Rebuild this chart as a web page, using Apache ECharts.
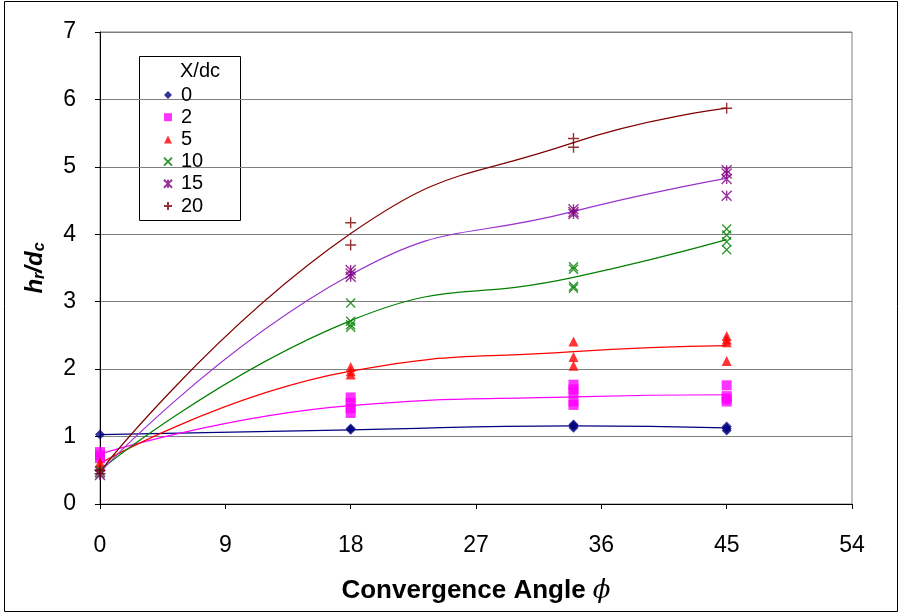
<!DOCTYPE html>
<html>
<head>
<meta charset="utf-8">
<script src="https://cdn.jsdelivr.net/npm/echarts@6/dist/echarts.min.js"></script>
<style>
  html, body { margin: 0; padding: 0; background: #ffffff; }
  #chart { width: 903px; height: 615px; }
</style>
</head>
<body>
<div id="chart"></div>
<script>
// Convergence angles at which measurements were taken
const angles = [0, 18, 34, 45];

// Group names (X/dc) shown in the legend
const groupNames = ['0', '2', '5', '10', '15', '20'];

// Measured hr/dc values, one inner list per angle in `angles`
const hr0  = [[1.03], [1.10, 1.12], [1.13, 1.16, 1.18], [1.09, 1.12, 1.15]];
const hr2  = [[0.68, 0.72, 0.77], [1.35, 1.42, 1.50, 1.58], [1.47, 1.52, 1.65, 1.70, 1.77], [1.52, 1.56, 1.60, 1.76]];
const hr5  = [[0.55, 0.62], [1.92, 1.97, 2.03], [2.05, 2.18, 2.41], [2.12, 2.40, 2.44, 2.49]];
const hr10 = [[0.45, 0.50], [2.62, 2.66, 2.71, 2.98], [3.20, 3.23, 3.48, 3.52], [3.77, 3.89, 3.99, 4.08]];
const hr15 = [[0.43, 0.48], [3.37, 3.42, 3.47], [4.30, 4.33, 4.37], [4.57, 4.82, 4.90, 4.95]];
const hr20 = [[0.45, 0.50], [3.84, 4.17], [5.29, 5.42], [5.87]];

// Trend values for each group at the same angles
const fit0  = [1.03, 1.10, 1.16, 1.13];
const fit2  = [0.74, 1.46, 1.59, 1.62];
const fit5  = [0.60, 1.97, 2.26, 2.35];
const fit10 = [0.50, 2.72, 3.36, 3.92];
const fit15 = [0.47, 3.40, 4.34, 4.83];
const fit20 = [0.48, 4.01, 5.36, 5.87];

const measured = [hr0, hr2, hr5, hr10, hr15, hr20];
const trends = [fit0, fit2, fit5, fit10, fit15, fit20];

const markerColors = ['#000080', '#FF00FF', '#FF0000', '#008000', '#800080', '#800000'];
const lineColors   = ['#000080', '#FF00FF', '#FF0000', '#008000', '#9933CC', '#800000'];

// Marker shapes: diamond, square, triangle, cross, asterisk, plus
const symbols = [
  'diamond',
  'rect',
  'triangle',
  'path://M0,0L10,10M10,0L0,10',
  'path://M0,0L10,10M10,0L0,10M5,0L5,10',
  'path://M5,0L5,10M0,5L10,5'
];
const symbolSizes = [10, 10, 10, 9, 10, 11];
const stroked = [false, false, false, true, true, true];

function toPairs(groups) {
  const out = [];
  groups.forEach((vals, i) => vals.forEach(v => out.push([angles[i], v])));
  return out;
}

const series = [];
trends.forEach((fit, g) => {
  series.push({
    name: 'trend' + groupNames[g],
    type: 'line',
    data: fit.map((v, i) => [angles[i], v]),
    smooth: 0.5,
    showSymbol: false,
    symbol: 'none',
    silent: true,
    z: 2,
    lineStyle: { color: lineColors[g], width: 1.2 }
  });
});
measured.forEach((groups, g) => {
  const style = stroked[g]
    ? { color: 'rgba(0,0,0,0)', borderColor: markerColors[g], borderWidth: 1.4 }
    : { color: markerColors[g] };
  series.push({
    name: groupNames[g],
    type: 'scatter',
    data: toPairs(groups),
    symbol: symbols[g],
    symbolSize: symbolSizes[g],
    z: 3,
    itemStyle: style
  });
});

const chart = echarts.init(document.getElementById('chart'), null, { renderer: 'canvas' });
chart.setOption({
  animation: false,
  backgroundColor: '#ffffff',
  textStyle: { fontFamily: 'Liberation Sans, Arial, sans-serif' },
  grid: {
    left: 100, right: 51, top: 32, bottom: 111,
    show: true, borderColor: '#808080', borderWidth: 1, backgroundColor: '#ffffff'
  },
  legend: {
    data: groupNames,
    orient: 'vertical',
    left: 163,
    top: 85,
    padding: 0,
    itemWidth: 8,
    itemHeight: 8,
    itemGap: 2.2,
    textStyle: { fontSize: 20, color: '#000000', padding: [0, 0, 0, 4], fontFamily: 'Liberation Sans, Arial, sans-serif' }
  },
  xAxis: {
    type: 'value',
    min: 0, max: 54, interval: 9,
    name: '{b|Convergence Angle }{p|ϕ}',
    nameLocation: 'middle',
    nameGap: 74,
    nameTextStyle: {
      rich: {
        b: { fontSize: 26, fontWeight: 'bold', color: '#000', fontFamily: 'Liberation Sans, Arial, sans-serif' },
        p: { fontSize: 26, fontStyle: 'italic', color: '#000', fontFamily: 'DejaVu Serif, serif' }
      }
    },
    axisLine: { lineStyle: { color: '#000000', width: 1 } },
    axisTick: { show: true, length: 5, lineStyle: { color: '#000000' } },
    axisLabel: { fontSize: 23, color: '#000000', margin: 30 },
    splitLine: { show: false }
  },
  yAxis: {
    type: 'value',
    min: 0, max: 7, interval: 1,
    name: '{h|h}{s|r}{h|/d}{s|c}',
    nameLocation: 'middle',
    nameRotate: 90,
    nameGap: 52,
    nameTextStyle: {
      rich: {
        h: { fontSize: 24, fontWeight: 'bold', fontStyle: 'italic', color: '#000', fontFamily: 'Liberation Sans, Arial, sans-serif' },
        s: { fontSize: 16, fontWeight: 'bold', fontStyle: 'italic', color: '#000', fontFamily: 'Liberation Sans, Arial, sans-serif', verticalAlign: 'bottom', padding: [10, 0, 0, 0] }
      }
    },
    axisLine: { show: true, lineStyle: { color: '#000000', width: 1 } },
    axisTick: { show: true, length: 5, lineStyle: { color: '#000000' } },
    axisLabel: { fontSize: 23, color: '#000000', margin: 24 },
    splitLine: { show: true, lineStyle: { color: '#808080', width: 1 } }
  },
  graphic: [
    { type: 'rect', shape: { x: 4.5, y: 1.5, width: 893, height: 610 },
      style: { fill: 'none', stroke: '#000000', lineWidth: 1 }, z: 100 },
    { type: 'rect', shape: { x: 139.5, y: 56.5, width: 101, height: 164 },
      style: { fill: '#ffffff', stroke: '#000000', lineWidth: 1 }, z: 0, zlevel: 0 },
    { type: 'text', left: 180, top: 61,
      style: { text: 'X/dc', fontSize: 20, fill: '#000000', fontFamily: 'Liberation Sans, Arial, sans-serif' }, z: 100 }
  ],
  series: series
});
</script>
</body>
</html>
